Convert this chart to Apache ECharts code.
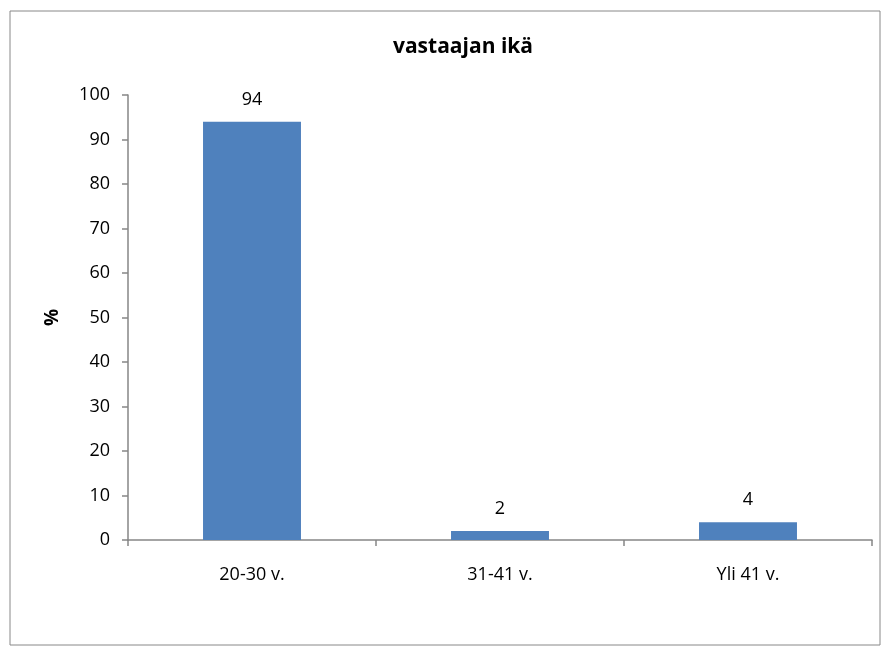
<!DOCTYPE html>
<html>
<head>
<meta charset="utf-8">
<script src="https://cdn.jsdelivr.net/npm/echarts@6/dist/echarts.min.js"></script>
<style>
  html, body { margin: 0; padding: 0; background: #fff; }
  #chart { width: 890px; height: 655px; }
</style>
</head>
<body>
<div id="chart"></div>
<script>
// Age groups of respondents and their share (%)
const categories = ['20-30 v.', '31-41 v.', 'Yli 41 v.'];
const percentages = [94, 2, 4];
const yTicks = { min: 0, max: 100, interval: 10 };

const font = '"Open Sans", Lato, sans-serif';
const axisGrey = '#868686';

const chart = echarts.init(document.getElementById('chart'));
chart.setOption({
  animation: false,
  graphic: [{
    type: 'rect',
    shape: { x: 10, y: 11, width: 870, height: 634 },
    style: { fill: 'none', stroke: '#888888', lineWidth: 1 },
    silent: true
  }],
  title: {
    text: 'vastaajan ikä',
    left: 458, top: 32, textAlign: 'center',
    textStyle: { fontFamily: font, fontSize: 21, fontWeight: 'bold', color: '#000' }
  },
  grid: { left: 128, right: 18, top: 95, bottom: 115, containLabel: false },
  xAxis: {
    type: 'category',
    data: categories,
    axisLine: { lineStyle: { color: axisGrey, width: 1.5 } },
    axisTick: { show: true, length: 6, inside: false, lineStyle: { color: axisGrey, width: 1.5 } },
    axisLabel: { fontFamily: font, fontSize: 18, color: '#000', margin: 26 },
    splitLine: { show: false }
  },
  yAxis: {
    type: 'value',
    min: yTicks.min, max: yTicks.max, interval: yTicks.interval,
    name: '%',
    nameLocation: 'middle',
    nameGap: 66,
    nameRotate: 90,
    nameTextStyle: { fontFamily: font, fontSize: 19, fontWeight: 'bold', color: '#000' },
    axisLine: { show: true, lineStyle: { color: axisGrey, width: 1.5 } },
    axisTick: { show: true, length: 6, lineStyle: { color: axisGrey, width: 1.5 } },
    axisLabel: { fontFamily: font, fontSize: 18, color: '#000', margin: 18 },
    splitLine: { show: false }
  },
  series: [{
    type: 'bar',
    data: percentages,
    barWidth: '39.5%',
    itemStyle: { color: '#4F81BD' },
    label: {
      show: true, position: 'top', distance: 13,
      fontFamily: font, fontSize: 18, color: '#000'
    }
  }]
});
</script>
</body>
</html>
